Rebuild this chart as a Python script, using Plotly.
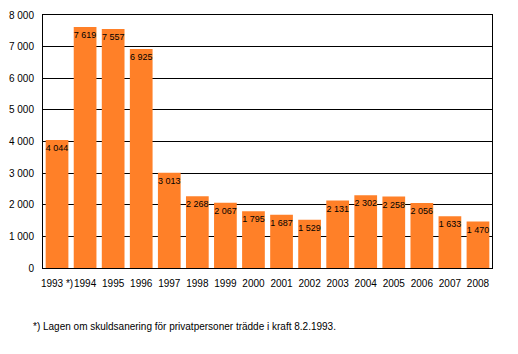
import plotly.graph_objects as go

years = ["1993 *)", "1994", "1995", "1996", "1997", "1998", "1999", "2000",
         "2001", "2002", "2003", "2004", "2005", "2006", "2007", "2008"]
values = [4044, 7619, 7557, 6925, 3013, 2268, 2067, 1795,
          1687, 1529, 2131, 2302, 2258, 2056, 1633, 1470]
y_ticks = [0, 1000, 2000, 3000, 4000, 5000, 6000, 7000, 8000]
footnote = "*) Lagen om skuldsanering för privatpersoner trädde i kraft 8.2.1993."

fig = go.Figure(go.Bar(
    x=years, y=values,
    marker=dict(color="#FF8028", line=dict(width=0)),
    texttemplate="%{y:,d}",
    textposition="inside",
    insidetextanchor="end",
    textangle=0,
    textfont=dict(color="black", size=9, family="Liberation Sans, Arial"),
    cliponaxis=False,
))

fig.update_layout(
    width=518, height=354,
    margin=dict(l=38, r=26, t=9, b=86),
    paper_bgcolor="white", plot_bgcolor="white",
    separators=", ",
    bargap=0.19,
    showlegend=False,
    font=dict(family="Liberation Sans, Arial", size=10, color="black"),
    uniformtext=dict(minsize=9, mode="show"),
    xaxis=dict(showline=True, linecolor="black", linewidth=1, mirror=True,
               ticks="", tickfont=dict(size=10), tickangle=0,
               ticklabelstandoff=6),
    yaxis=dict(range=[0, 8000], tickvals=y_ticks, tickformat=",d",
               showgrid=True, gridcolor="black", gridwidth=1,
               showline=True, linecolor="black", linewidth=1, mirror=True,
               ticks="", ticklen=0, tickfont=dict(size=10), zeroline=False,
               ticklabelstandoff=6),
    annotations=[dict(text=footnote, xref="paper", yref="paper",
                      x=-0.026, y=-0.232, xanchor="left", yanchor="middle",
                      showarrow=False, font=dict(size=10))],
)

fig.write_html("out.html")
